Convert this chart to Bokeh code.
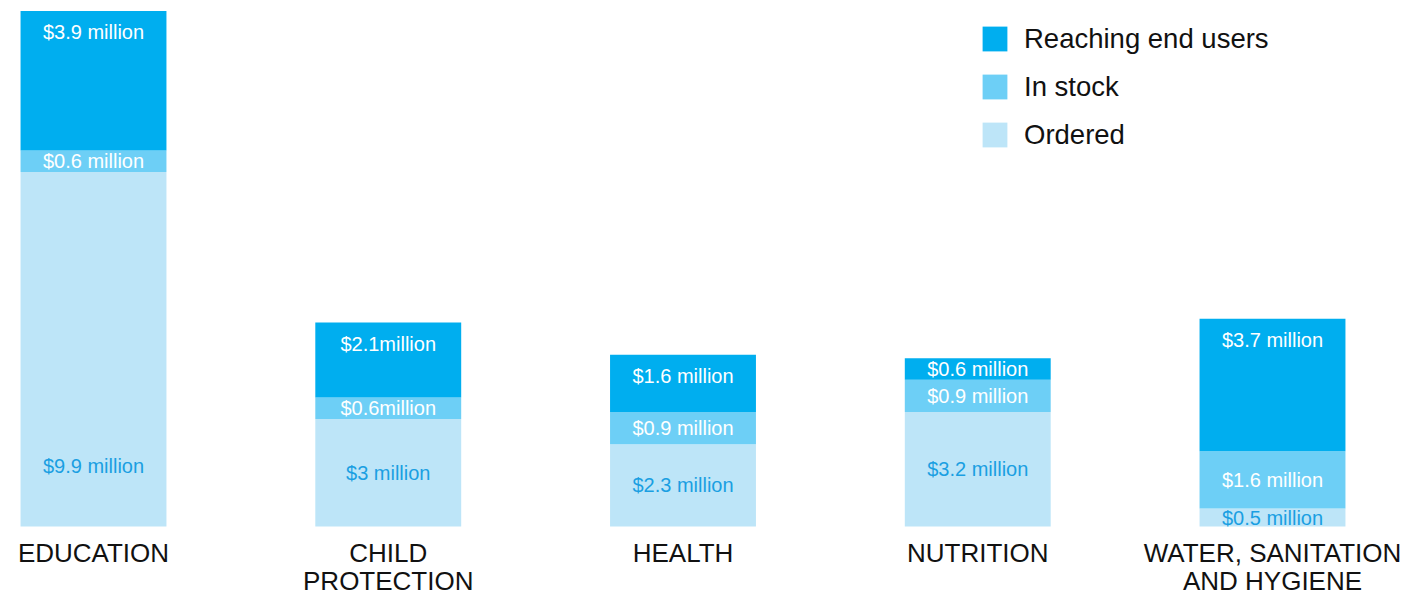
from bokeh.plotting import figure
from bokeh.models import ColumnDataSource, Range1d, Legend, LegendItem
from bokeh.core.properties import value
from bokeh.embed import file_html
from bokeh.resources import INLINE

# ---- data ----
categories = ["EDUCATION", "CHILD\nPROTECTION", "HEALTH", "NUTRITION", "WATER, SANITATION\nAND HYGIENE"]
ordered = [9.9, 3.0, 2.3, 3.2, 0.5]
in_stock = [0.6, 0.6, 0.9, 0.9, 1.6]
reaching = [3.9, 2.1, 1.6, 0.6, 3.7]
ordered_labels = ["$9.9 million", "$3 million", "$2.3 million", "$3.2 million", "$0.5 million"]
in_stock_labels = ["$0.6 million", "$0.6million", "$0.9 million", "$0.9 million", "$1.6 million"]
reaching_labels = ["$3.9 million", "$2.1million", "$1.6 million", "$0.6 million", "$3.7 million"]
series_names = ["Reaching end users", "In stock", "Ordered"]

# ---- style ----
C_REACH = "#00aeef"
C_STOCK = "#6dcff6"
C_ORDER = "#bde5f8"
C_ORDER_TXT = "#1a9fe2"
FONT = "Liberation Sans"

W, H = 1410, 598
PX_X = 294.75
PX_Y = 35.8
X0 = 93
Y0 = 526

x = list(range(len(categories)))
src = ColumnDataSource(dict(x=x, ordered=ordered, in_stock=in_stock, reaching=reaching))

x_start = -X0 / PX_X
y_start = -(H - Y0) / PX_Y
p = figure(width=W, height=H,
           x_range=Range1d(x_start, x_start + W / PX_X),
           y_range=Range1d(y_start, y_start + H / PX_Y),
           x_axis_type=None, y_axis_type=None,
           output_backend="svg", toolbar_location=None, min_border=0)
p.grid.visible = False
p.outline_line_color = None
p.background_fill_color = "white"

rs = p.vbar_stack(["ordered", "in_stock", "reaching"], x="x", width=0.495, source=src,
                  fill_color=[C_ORDER, C_STOCK, C_REACH], line_color=None)

# value labels
base_stock = ordered
base_reach = [o + s for o, s in zip(ordered, in_stock)]
ordered_y = [min(v / 2, 1.7) for v in ordered]
stock_y = [b + v / 2 for b, v in zip(base_stock, in_stock)]
reach_y = [b + v - min(v / 2, 0.6) for b, v in zip(base_reach, reaching)]

for ys, labels, col in [(ordered_y, ordered_labels, C_ORDER_TXT),
                        (stock_y, in_stock_labels, "white"),
                        (reach_y, reaching_labels, "white")]:
    p.text(x=x, y=ys, text=labels, text_align="center", text_baseline="middle",
           text_color=col, text_font=value(FONT), text_font_size="20px")

# category labels
p.text(x=x, y=[0] * len(x), text=categories, text_align="center", text_baseline="top",
       y_offset=11, text_color="#111111", text_font=value(FONT), text_font_size="26px",
       text_line_height=0.95)

legend = Legend(items=[LegendItem(label=series_names[0], renderers=[rs[2]]),
                       LegendItem(label=series_names[1], renderers=[rs[1]]),
                       LegendItem(label=series_names[2], renderers=[rs[0]])],
                location=(979, 447), glyph_width=31, glyph_height=31, label_height=33,
                spacing=15, padding=0, margin=0, label_standoff=14,
                label_text_font=FONT, label_text_font_size="27.5px", label_text_color="#111111",
                border_line_alpha=0, background_fill_alpha=0)
p.add_layout(legend)

open("out.html", "w").write(file_html(p, INLINE))
